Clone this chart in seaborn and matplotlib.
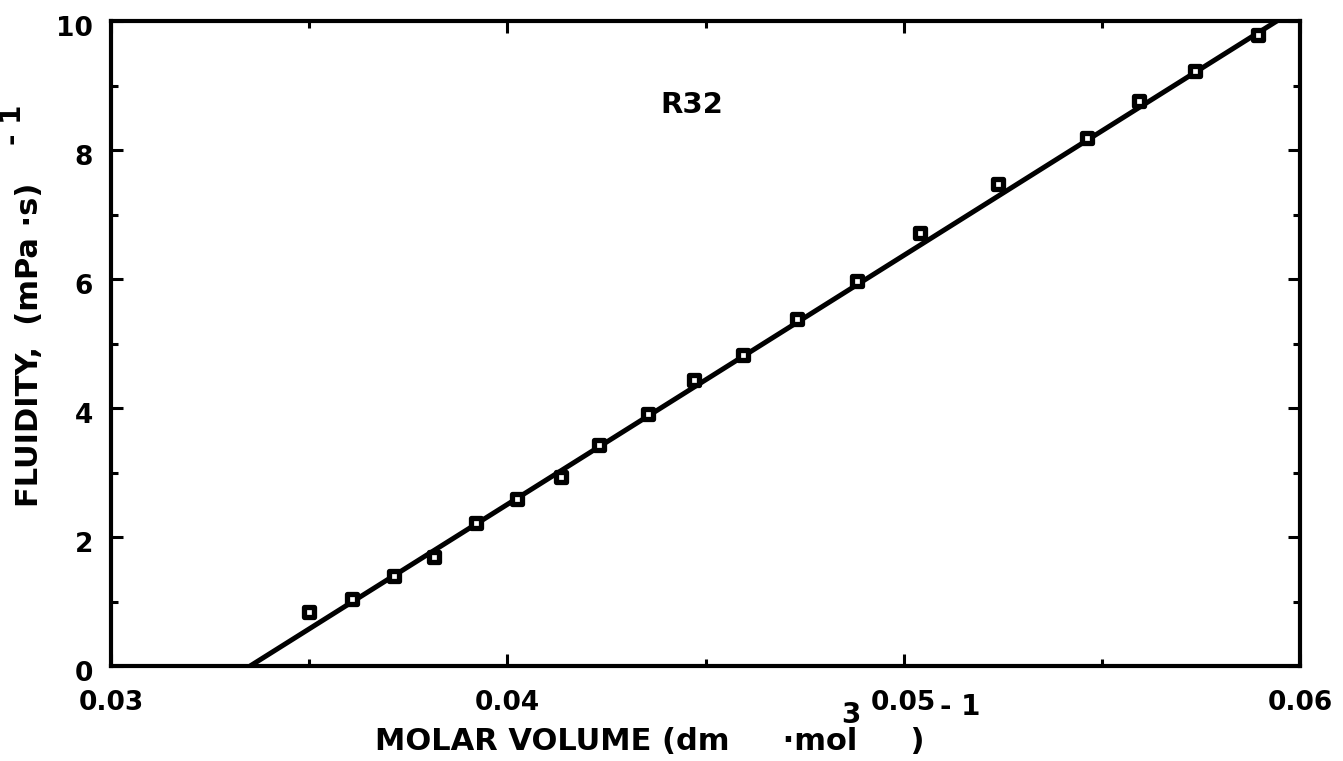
import numpy as np
import pandas as pd
import matplotlib
matplotlib.use("Agg")
import matplotlib.pyplot as plt
import matplotlib.transforms as mtransforms
import seaborn as sns
from matplotlib.ticker import MultipleLocator, FixedLocator, FixedFormatter

# Measured fluidity of R32 against molar volume
molar_volume = [0.0350, 0.03608, 0.03715, 0.03816, 0.03921, 0.04024, 0.04136,
                0.04231, 0.04355, 0.04472, 0.04595, 0.04732, 0.04881, 0.05040,
                0.05239, 0.05462, 0.05593, 0.05734, 0.05893]
fluidity = [0.83, 1.04, 1.40, 1.69, 2.21, 2.59, 2.93, 3.43, 3.91, 4.44, 4.82,
            5.38, 5.97, 6.72, 7.47, 8.18, 8.76, 9.22, 9.78]

# Hildebrand fit: fluidity = B * (V - V0) / V0
fit_v0 = 0.03351
fit_slope = 386.0

x_ticks = [0.03, 0.04, 0.05, 0.06]
x_tick_labels = ["0.03", "0.04", "0.05", "0.06"]
y_ticks = [0, 2, 4, 6, 8, 10]
y_tick_labels = ["0", "2", "4", "6", "8", "10"]

sns.set_style("ticks")
plt.rcParams["font.family"] = ["DejaVu Sans"]
plt.rcParams["font.weight"] = "bold"
plt.rcParams["text.color"] = "black"

W, H = 1343, 761
fig = plt.figure(figsize=(W / 100, H / 100), dpi=100)
ax = fig.add_axes([111 / W, 1 - 666 / H, (1300 - 111) / W, (666 - 21) / H])

df = pd.DataFrame({"V": molar_volume, "phi": fluidity})
fit_x = np.array([fit_v0, 0.0605])
fit_df = pd.DataFrame({"V": fit_x, "phi": fit_slope * (fit_x - fit_v0)})

sns.lineplot(data=fit_df, x="V", y="phi", ax=ax, color="black", linewidth=3.6,
             solid_capstyle="butt")
sns.scatterplot(data=df, x="V", y="phi", ax=ax, marker="s", s=62,
                facecolor="white", edgecolor="black", linewidth=3.8, zorder=3)

ax.set_xlim(0.03, 0.06)
ax.set_ylim(0, 10)

for side in ["left", "right", "top", "bottom"]:
    ax.spines[side].set_visible(True)
    ax.spines[side].set_linewidth(3.0)
    ax.spines[side].set_color("black")

ax.xaxis.set_major_locator(FixedLocator(x_ticks))
ax.xaxis.set_major_formatter(FixedFormatter(x_tick_labels))
ax.xaxis.set_minor_locator(MultipleLocator(0.005))
ax.yaxis.set_major_locator(FixedLocator(y_ticks))
ax.yaxis.set_major_formatter(FixedFormatter(y_tick_labels))
ax.yaxis.set_minor_locator(MultipleLocator(1))

ax.tick_params(which="both", direction="in", top=True, right=True,
               color="black", labelcolor="black", width=2.2)
ax.tick_params(which="major", length=8.5)
ax.tick_params(which="minor", length=5)
ax.tick_params(axis="y", which="major", labelsize=19, pad=13)
ax.tick_params(axis="x", which="major", labelsize=19, pad=17)
for lbl in ax.get_xticklabels() + ax.get_yticklabels():
    lbl.set_fontweight("bold")

# value labels on the y axis sit a little below their ticks
shift = mtransforms.ScaledTranslation(0, -5 / 100, fig.dpi_scale_trans)
for lbl in ax.get_yticklabels():
    lbl.set_transform(lbl.get_transform() + shift)

ax.set_xlabel("")
ax.set_ylabel("")

# Axis titles with typewriter-style raised exponents
fig.text(375 / W, 1 - 741 / H, "MOLAR VOLUME (dm     \u00b7mol     )",
         fontsize=22, fontweight="bold", ha="left", va="center")
fig.text(851 / W, 1 - 715 / H, "3", fontsize=20, fontweight="bold",
         ha="center", va="center")
fig.text(960 / W, 1 - 707 / H, "- 1", fontsize=20, fontweight="bold",
         ha="center", va="center")

fig.text(30 / W, 1 - 345 / H, "FLUIDITY,  (mPa \u00b7s)", fontsize=22,
         fontweight="bold", ha="center", va="center", rotation=90)
fig.text(13 / W, 1 - 125 / H, "- 1", fontsize=20, fontweight="bold",
         ha="center", va="center", rotation=90)

ax.text(0.04465, 8.70, "R32", fontsize=21, fontweight="bold", ha="center",
        va="center")

fig.savefig("out.png", dpi=100)
